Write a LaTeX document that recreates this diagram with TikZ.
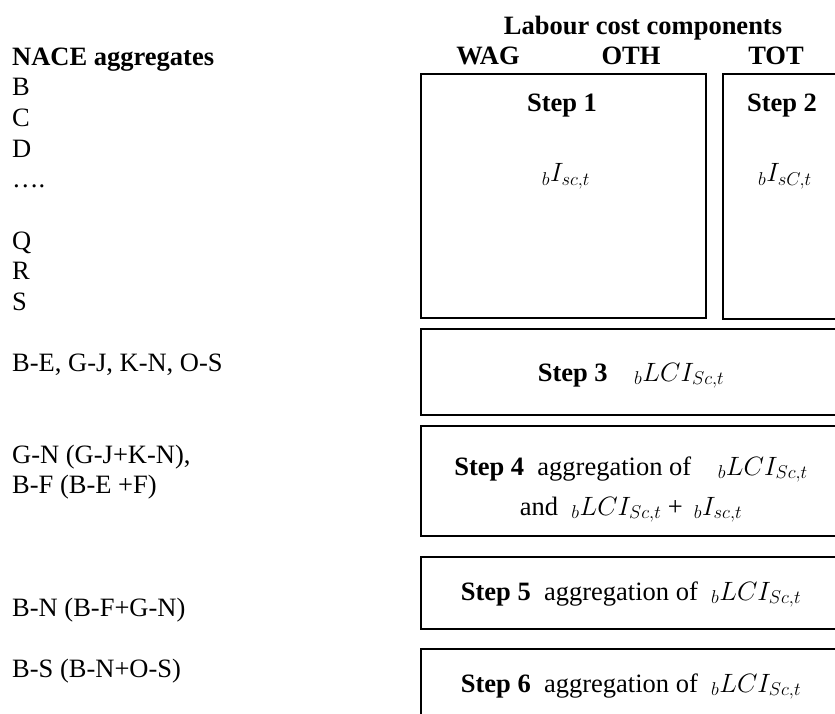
\RequirePackage{fix-cm}
\documentclass[tikz,border=0pt]{standalone}
\usepackage{fontspec}
\setmainfont{Liberation Serif}
\usepackage{tikz}

\newcommand{\lcfont}{\fontsize{26.5}{30.6}\selectfont}

\begin{document}
\begin{tikzpicture}[x=1pt,y=-1pt]

\tikzstyle{every node}=[font=\lcfont,inner sep=0pt,anchor=base];
\tikzstyle{hdr}=[font=\lcfont\bfseries];
\tikzstyle{stepbox}=[draw,line width=1.6pt,minimum width=420pt,anchor=center];

\useasboundingbox (0,0) rectangle (835,714);
\clip (0,0) rectangle (835,714);

% Column headers
\node[hdr] (lcc) at (643,35) {Labour cost components};
\node[hdr] (wag) at (488,65) {WAG};
\node[hdr] (oth) at (631,65) {OTH};
\node[hdr] (tot) at (776,65) {TOT};

% NACE aggregates, one per line
\node[hdr,anchor=base west] (nace) at (12,65.4) {NACE aggregates};
\foreach \r/\txt in {1/B,2/C,3/D,4/….,6/Q,7/R,8/S,
  10/{B-E, G-J, K-N, O-S},13/{G-N (G-J+K-N),},14/{B-F (B-E +F)},
  18/{B-N (B-F+G-N)},20/{B-S (B-N+O-S)}}
  \node[anchor=base west] (agg\r) at (12,65.4+30.6*\r) {\txt};

% The step boxes
\node[stepbox,minimum width=285pt,minimum height=244pt] (box1) at (563.5,196) {};
\node[stepbox,minimum width=118pt,minimum height=245pt] (box2) at (782,196.5) {};
\node[stepbox,minimum height=86pt] (box3) at (631,372) {};
\node[stepbox,minimum height=110pt] (box4) at (631,481) {};
\node[stepbox,minimum height=72pt] (box5) at (631,593) {};
\node[stepbox,minimum height=72pt] (box6) at (631,685) {};

% Step texts
\node (step1) at (562,112) {\textbf{Step 1}};
\node (isc1) at (566,182) {${}_{b}I_{sc,t}$};
\node (step2) at (782,112) {\textbf{Step 2}};
\node (isc2) at (785,182) {${}_{b}I_{sC,t}$};
\node (step3) at (631,381) {\textbf{Step 3}\quad${}_{b}LCI_{Sc,t}$};
\node (step4a) at (631,475) {\textbf{Step 4}\enspace aggregation of\quad${}_{b}LCI_{Sc,t}$};
\node (step4b) at (631,515) {and\enspace${}_{b}LCI_{Sc,t}$ + \,${}_{b}I_{sc,t}$};
\node (step5) at (631,600) {\textbf{Step 5}\enspace aggregation of\enspace${}_{b}LCI_{Sc,t}$};
\node (step6) at (631,692) {\textbf{Step 6}\enspace aggregation of\enspace${}_{b}LCI_{Sc,t}$};

\end{tikzpicture}
\end{document}
